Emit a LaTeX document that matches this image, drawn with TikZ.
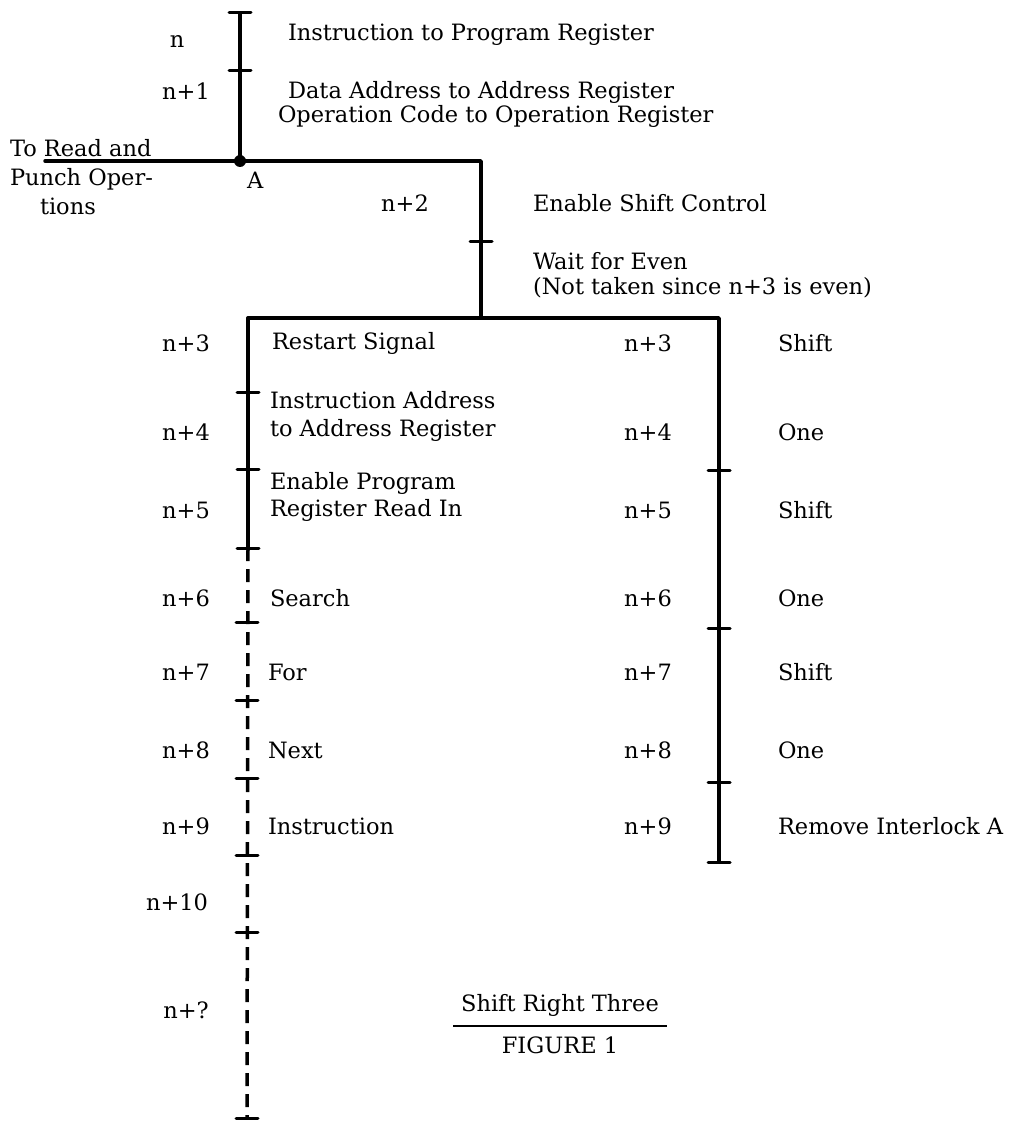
\documentclass[tikz,border=0pt]{standalone}
\usepackage{fontspec}
\setmainfont{DejaVu Serif}
\begin{document}
\begin{tikzpicture}[x=1pt,y=-1pt]
\definecolor{drawColor}{RGB}{0,0,0}
\tikzset{
  wire/.style={draw=drawColor,line width=3.5pt,line cap=round,line join=round},
  dashwire/.style={draw=drawColor,line width=3.5pt,dash pattern=on 13pt off 8pt},
  tickmark/.style={draw=drawColor,line width=3pt,line cap=round},
  lbl/.style={text=drawColor,inner sep=0pt,outer sep=0pt,font=\fontsize{22.5}{27}\selectfont},
  txt/.style={lbl,anchor=west,align=left}
}
\path[use as bounding box,fill=white] (0,0) rectangle (1030,1123);

% points of the timing lines
\coordinate (top) at (240,13);
\coordinate (t1) at (240,71);
\coordinate (A) at (240,161);
\coordinate (lft) at (45,161);
\coordinate (cnr) at (481,161);
\coordinate (t2) at (481,241);
\coordinate (split) at (481,318);
\coordinate (L) at (248,318);
\coordinate (R) at (719,318);
\coordinate (L4) at (248,392);
\coordinate (L5) at (248,469);
\coordinate (L6) at (248,548);
\coordinate (D7) at (247,622);
\coordinate (D8) at (247,700);
\coordinate (D9) at (247,778);
\coordinate (D10) at (247,855);
\coordinate (D11) at (247,932);
\coordinate (Dend) at (247,1118);
\coordinate (R5) at (719,470);
\coordinate (R7) at (719,628);
\coordinate (R9) at (719,782);
\coordinate (Rend) at (719,862);

% lines
\path[wire] (top) -- (A);
\path[wire] (lft) -- (A) -- (cnr) -- (split);
\path[wire] (L) -- (R) -- (Rend);
\path[wire] (L) -- (L6);
\path[dashwire] (L6) -- (Dend);
\fill[drawColor] (A) circle (6);

% ticks
\foreach \p in {top,t1,t2,L4,L5,L6,D7,D8,D9,D10,D11,Dend,R5,R7,R9,Rend}
  \path[tickmark] (\p) ++(-11,0) -- ++(22,0);

% cycle numbers
\node[lbl] (cn) at (177,42) {n};
\node[lbl] (cn1) at (186,91) {n+1};
\node[lbl] (cn2) at (405,203) {n+2};
\foreach \k/\y in {3/343,4/432,5/510,6/598,7/672,8/750,9/826}{
  \node[lbl] (cl\k) at (186,\y) {n+\k};
  \node[lbl] (cr\k) at (648,\y) {n+\k};
}
\node[lbl] (cl10) at (177,902) {n+10};
\node[lbl] (clq) at (186,1010) {n+?};

% operations
\node[txt] (op0) at (288,35) {Instruction to Program Register};
\node[txt] (op1a) at (288,92) {Data Address to Address Register};
\node[txt] (op1b) at (278,116) {Operation Code to Operation Register};
\node[txt,font=\fontsize{22.5}{29}\selectfont] (rp) at (10,177) {To Read and\\Punch Oper-\\\hspace*{30pt}tions};
\node[lbl,anchor=west] (lA) at (247,180) {A};
\node[txt] (op2) at (533,203) {Enable Shift Control};
\node[txt,font=\fontsize{22.5}{25}\selectfont] (wait) at (533,275) {Wait for Even\\(Not taken since n+3 is even)};
\node[txt] (op3) at (272,343) {Restart Signal};
\node[txt,font=\fontsize{22.5}{28}\selectfont] (op4) at (270,416) {Instruction Address\\to Address Register};
\node[txt] (op5) at (270,497) {Enable Program\\Register Read In};
\node[txt] (op6) at (270,598) {Search};
\node[txt] (op7) at (268,672) {For};
\node[txt] (op8) at (268,750) {Next};
\node[txt] (op9) at (268,826) {Instruction};
\foreach \k/\y/\t in {3/343/Shift,4/432/One,5/510/Shift,6/598/One,7/672/Shift,8/750/One,9/826/Remove Interlock A}
  \node[txt] (sh\k) at (778,\y) {\t};

% caption
\node[lbl] (title) at (560,1005) {Shift Right Three};
\path[draw=drawColor,line width=1.2pt] ([xshift=-8pt,yshift=-10pt]title.south west) -- ([xshift=8pt,yshift=-10pt]title.south east);
\node[lbl] (fig) at (560,1045) {FIGURE 1};
\end{tikzpicture}
\end{document}
